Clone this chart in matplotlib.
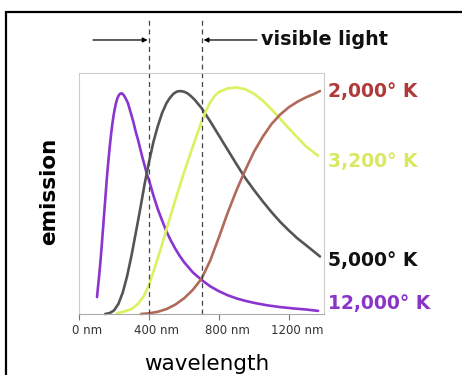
import numpy as np
import matplotlib.pyplot as plt
from matplotlib.patches import Rectangle
from matplotlib.transforms import ScaledTranslation, blended_transform_factory

# Relative emission curves (peak ~ 1.0), wavelength in nm
wl_12000 = [103, 110, 115, 122, 130, 138, 145, 152, 160, 168, 175, 183, 190, 198,
            205, 213, 220, 228, 235, 243, 250, 258, 265, 273, 280, 290, 300, 312,
            325, 337, 350, 362, 375, 388, 400, 425, 450, 475, 500, 525, 550, 575,
            600, 650, 700, 750, 800, 850, 900, 950, 1000, 1075, 1150, 1225, 1300, 1366]
em_12000 = [0.076, 0.132, 0.17, 0.231, 0.308, 0.39, 0.463, 0.535, 0.617, 0.687,
            0.746, 0.804, 0.849, 0.893, 0.923, 0.951, 0.969, 0.982, 0.988, 0.99,
            0.987, 0.979, 0.969, 0.957, 0.945, 0.918, 0.891, 0.857, 0.815, 0.782,
            0.741, 0.703, 0.666, 0.627, 0.6, 0.532, 0.471, 0.419, 0.37, 0.329,
            0.293, 0.261, 0.233, 0.187, 0.153, 0.124, 0.102, 0.084, 0.07, 0.059,
            0.05, 0.039, 0.031, 0.025, 0.02, 0.014]

wl_5000 = [149, 175, 200, 225, 250, 275, 300, 325, 350, 375, 400, 425, 450, 475,
           500, 520, 540, 560, 580, 600, 620, 640, 660, 700, 750, 800, 850, 900,
           950, 1000, 1050, 1100, 1150, 1200, 1250, 1300, 1377]
em_5000 = [0.0, 0.004, 0.016, 0.045, 0.096, 0.17, 0.262, 0.366, 0.472, 0.583,
           0.682, 0.771, 0.842, 0.902, 0.946, 0.97, 0.988, 0.998, 1.0, 0.997,
           0.99, 0.977, 0.962, 0.924, 0.864, 0.8, 0.736, 0.672, 0.61, 0.556,
           0.505, 0.457, 0.413, 0.374, 0.338, 0.307, 0.258]

wl_3200 = [217, 263, 300, 337, 370, 400, 440, 470, 500, 550, 600, 650, 700, 725,
           750, 775, 800, 850, 900, 950, 1000, 1050, 1100, 1150, 1200, 1250, 1300, 1366]
em_3200 = [0.004, 0.012, 0.022, 0.045, 0.08, 0.13, 0.225, 0.3, 0.38, 0.51, 0.635,
           0.75, 0.862, 0.91, 0.95, 0.978, 0.996, 1.012, 1.016, 1.008, 0.988,
           0.957, 0.918, 0.875, 0.832, 0.79, 0.75, 0.71]

wl_2000 = [354, 400, 450, 500, 550, 600, 650, 700, 750, 800, 850, 900, 950, 1000,
           1050, 1100, 1150, 1200, 1250, 1300, 1340, 1377]
em_2000 = [0.0, 0.003, 0.01, 0.022, 0.042, 0.07, 0.108, 0.158, 0.24, 0.345, 0.455,
           0.555, 0.645, 0.728, 0.795, 0.852, 0.895, 0.928, 0.953, 0.973, 0.986, 1.0]

curves = [
    (wl_12000, em_12000, '#8a35d0', '12,000° K', 0.045),
    (wl_5000, em_5000, '#555555', '5,000° K', 0.238),
    (wl_3200, em_3200, '#dcf060', '3,200° K', 0.686),
    (wl_2000, em_2000, '#b06a5a', '2,000° K', 0.996),
]
label_colors = {'12,000° K': '#8a35c8', '5,000° K': '#111111',
                '3,200° K': '#d8e860', '2,000° K': '#b03a3a'}

visible_edges = [400, 700]
tick_vals = [0, 400, 800, 1200]
tick_labels = ['0 nm', '400 nm', '800 nm', '1200 nm']

fig = plt.figure(figsize=(4.62, 3.75), dpi=100)
fig.patch.set_facecolor('white')

# black frame around the panel, running off the right and bottom edges
fig.patches.append(Rectangle((5.5 / 462, -0.1), 1.2, 1.1 - 12 / 375,
                             transform=fig.transFigure, fill=False,
                             edgecolor='black', linewidth=1.6))

ax = fig.add_axes([79 / 462, 1 - 314 / 375, 245 / 462, 241 / 375])
ax.set_xlim(0, 1400)
ax.set_ylim(0, 1.081)

for wl, em, color, name, ly in curves:
    ax.plot(wl, em, color=color, linewidth=1.9, solid_capstyle='round',
            solid_joinstyle='round', clip_on=False)
    ax.text(1423, ly, name, color=label_colors[name], fontsize=13.5,
            fontweight='bold', ha='left', va='center', clip_on=False)

trans = blended_transform_factory(ax.transData, ax.transAxes)
for edge in visible_edges:
    ax.plot([edge, edge], [0, 1.22], transform=trans, color='#444444',
            linewidth=0.9, linestyle=(0, (4, 3)), clip_on=False)

# visible light arrows
ax.annotate('', xy=(392, 1.137), xytext=(80, 1.137), xycoords=trans, textcoords=trans,
            arrowprops=dict(arrowstyle='-|>', color='black', lw=0.9,
                            mutation_scale=7, shrinkA=0, shrinkB=0))
ax.annotate('', xy=(712, 1.137), xytext=(1017, 1.137), xycoords=trans, textcoords=trans,
            arrowprops=dict(arrowstyle='-|>', color='black', lw=0.9,
                            mutation_scale=7, shrinkA=0, shrinkB=0))
ax.text(1040, 1.137, 'visible light', transform=trans, fontsize=13.8,
        fontweight='bold', ha='left', va='center', color='#111111')

for side in ['left', 'right', 'top', 'bottom']:
    ax.spines[side].set_color('#cccccc')
    ax.spines[side].set_linewidth(0.8)
ax.spines['bottom'].set_color('#aaaaaa')

ax.set_yticks([])
ax.set_xticks(tick_vals)
ax.set_xticklabels(tick_labels)
ax.tick_params(axis='x', length=4, width=0.8, color='#777777', pad=3,
               labelsize=8.5, labelcolor='#333333')
for lab in ax.get_xticklabels():
    lab.set_transform(lab.get_transform() + ScaledTranslation(8 / 100, 0, fig.dpi_scale_trans))

fig.text(207 / 462, 1 - 364 / 375, 'wavelength', fontsize=15.5, ha='center', va='center')
fig.text(49 / 462, 1 - 191 / 375, 'emission', fontsize=15.5, fontweight='bold',
         rotation=90, ha='center', va='center')

plt.savefig('out.png', dpi=100)
